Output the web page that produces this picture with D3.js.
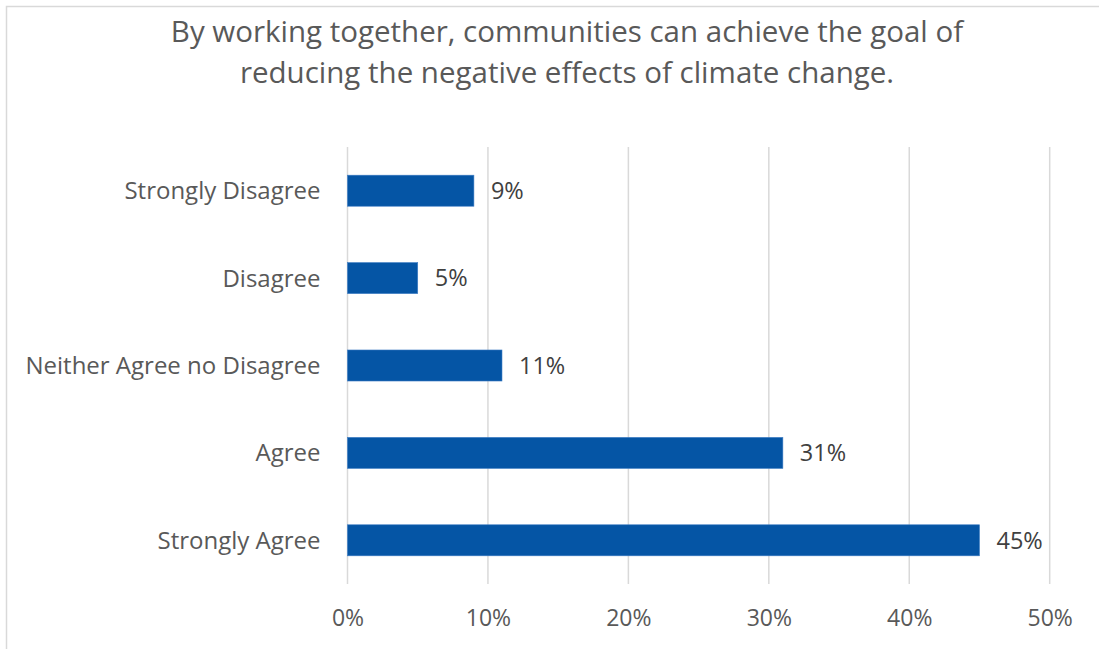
<!DOCTYPE html>
<html>
<head>
<meta charset="utf-8">
<script src="https://cdn.jsdelivr.net/npm/d3@7/dist/d3.min.js"></script>
<style>
  html, body { margin: 0; padding: 0; background: #ffffff; }
  svg { display: block; }
  text { font-variant-ligatures: none; }
</style>
</head>
<body>
<svg id="chart" width="1099" height="649"></svg>
<script>
// Survey responses, listed top to bottom
const categories = ["Strongly Disagree", "Disagree", "Neither Agree no Disagree", "Agree", "Strongly Agree"];
const shares = [9, 5, 11, 31, 45];
const tickValues = [0, 10, 20, 30, 40, 50];
const titleLines = [
  "By working together, communities can achieve the goal of",
  "reducing the negative effects of climate change."
];

const svg = d3.select("#chart");
const font = "'Open Sans', Lato, sans-serif";

// Outer chart frame (open to the right and bottom)
svg.append("path")
  .attr("d", "M6.5,649 L6.5,6.5 L1099,6.5")
  .attr("fill", "none")
  .attr("stroke", "#d9d9d9")
  .attr("stroke-width", 1.5);

// Title
svg.append("g").selectAll("text")
  .data(titleLines)
  .join("text")
  .attr("x", 567)
  .attr("y", (d, i) => 42 + i * 41)
  .attr("text-anchor", "middle")
  .attr("font-family", font)
  .attr("font-size", 29.5)
  .attr("fill", "#595959")
  .text(d => d);

const plot = { left: 347.5, right: 1049.7, top: 147, bottom: 584 };

const x = d3.scaleLinear().domain([0, 50]).range([plot.left, plot.right]);
const y = d3.scaleBand()
  .domain(categories)
  .range([plot.top, plot.bottom])
  .paddingInner(0.645)
  .paddingOuter(0.3225);

// Vertical gridlines
svg.append("g").selectAll("line")
  .data(tickValues)
  .join("line")
  .attr("x1", d => x(d)).attr("x2", d => x(d))
  .attr("y1", plot.top).attr("y2", plot.bottom)
  .attr("stroke", "#d9d9d9")
  .attr("stroke-width", 1.5);

// X axis tick labels
const xAxis = d3.axisBottom(x)
  .tickValues(tickValues)
  .tickFormat(d => d + "%")
  .tickSize(0)
  .tickPadding(0);
const gx = svg.append("g")
  .attr("transform", `translate(0,${plot.bottom})`)
  .call(xAxis);
gx.select(".domain").remove();
gx.selectAll("text")
  .attr("dy", null)
  .attr("y", 42)
  .attr("font-family", font)
  .attr("font-size", 23)
  .attr("fill", "#595959");

// Category labels
const yAxis = d3.axisLeft(y).tickSize(0).tickPadding(0);
const gy = svg.append("g")
  .attr("transform", `translate(${plot.left - 27},0)`)
  .call(yAxis);
gy.select(".domain").remove();
gy.selectAll("text")
  .attr("dy", "0.35em")
  .attr("font-family", font)
  .attr("font-size", 24)
  .attr("fill", "#595959");

// Bars
svg.append("g").selectAll("rect")
  .data(categories)
  .join("rect")
  .attr("x", x(0))
  .attr("y", d => y(d))
  .attr("width", (d, i) => x(shares[i]) - x(0))
  .attr("height", y.bandwidth())
  .attr("fill", "#0555a5")
  .attr("stroke", "#3d7cc4")
  .attr("stroke-width", 0.6);

// Value labels
svg.append("g").selectAll("text")
  .data(categories)
  .join("text")
  .attr("x", (d, i) => x(shares[i]) + 17)
  .attr("y", d => y(d) + y.bandwidth() / 2)
  .attr("dy", "0.35em")
  .attr("font-family", font)
  .attr("font-size", 23.5)
  .attr("fill", "#404040")
  .text((d, i) => shares[i] + "%");
</script>
</body>
</html>
